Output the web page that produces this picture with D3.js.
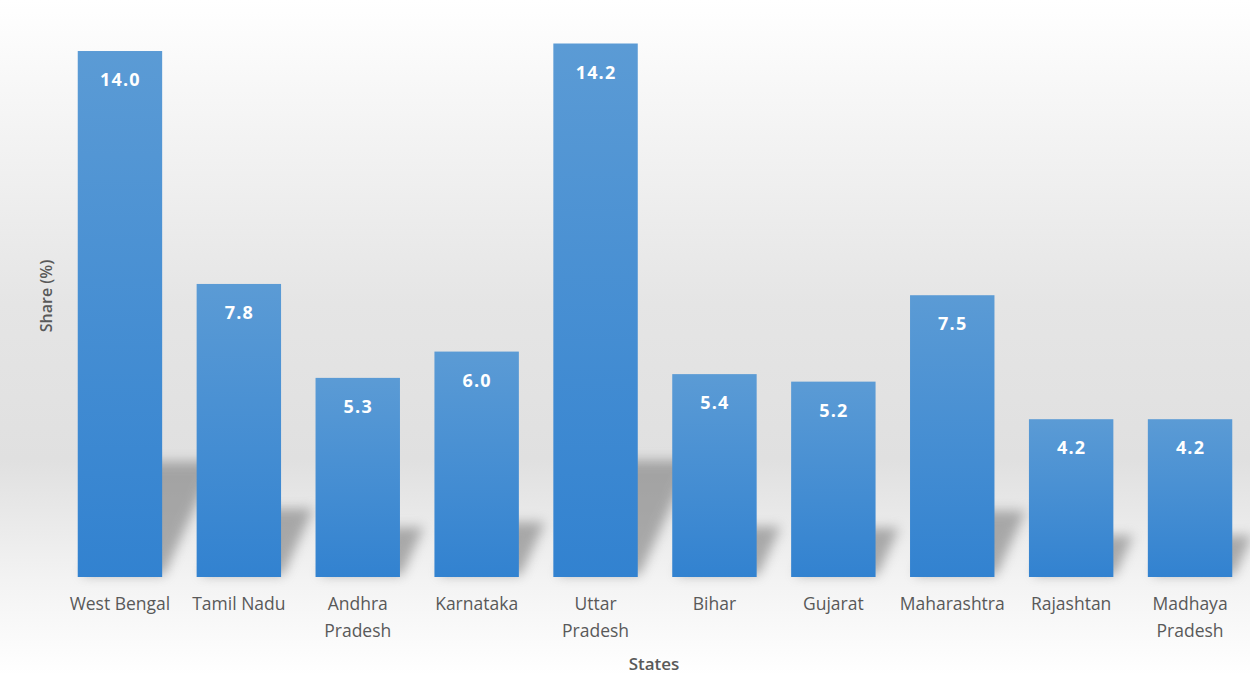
<!DOCTYPE html>
<html><head><meta charset="utf-8">
<script src="https://cdn.jsdelivr.net/npm/d3@7"></script>
<style>html,body{margin:0;padding:0;background:#fff}svg{display:block}</style>
</head><body>
<svg id="c" width="1250" height="675"></svg>
<script>
const categories = ["West Bengal","Tamil Nadu","Andhra Pradesh","Karnataka","Uttar Pradesh","Bihar","Gujarat","Maharashtra","Rajashtan","Madhaya Pradesh"];
const labelLines = [["West Bengal"],["Tamil Nadu"],["Andhra","Pradesh"],["Karnataka"],["Uttar","Pradesh"],["Bihar"],["Gujarat"],["Maharashtra"],["Rajashtan"],["Madhaya","Pradesh"]];
const values = [14.0,7.8,5.3,6.0,14.2,5.4,5.2,7.5,4.2,4.2];
const xTitle = "States";
const yTitle = "Share (%)";

const W=1250,H=675;
const svg=d3.select("#c");
const defs=svg.append("defs");
const bg=defs.append("linearGradient").attr("id","bg").attr("x1",0).attr("y1",0).attr("x2",0).attr("y2",1);
[[0,"#ffffff"],[0.15,"#f6f6f6"],[0.45,"#e5e5e5"],[0.68,"#e0e0e0"],[0.86,"#f3f3f3"],[1,"#ffffff"]].forEach(s=>bg.append("stop").attr("offset",s[0]).attr("stop-color",s[1]));
const bar=defs.append("linearGradient").attr("id","bar").attr("x1",0).attr("y1",0).attr("x2",0).attr("y2",1);
bar.append("stop").attr("offset",0).attr("stop-color","#5b9bd5");
bar.append("stop").attr("offset",1).attr("stop-color","#3282d0");
const blur=defs.append("filter").attr("id","blur").attr("x","-50%").attr("y","-50%").attr("width","200%").attr("height","200%");
blur.append("feGaussianBlur").attr("stdDeviation",6);

svg.append("rect").attr("width",W).attr("height",H).attr("fill","url(#bg)");

const x=d3.scaleBand().domain(categories).range([60.5,1249.5]).paddingInner(0.29).paddingOuter(0.145);
const y=d3.scaleLinear().domain([0,14.2]).range([577,43.5]);

// perspective shadows
const g=svg.append("g");
g.selectAll("path.sh").data(categories).join("path").attr("class","sh")
 .attr("d",(c,i)=>{const x0=x(c),x1=x0+x.bandwidth();const h=(y(0)-y(values[i]))*0.2+8;const dx=h/2.2;const b=y(0)-2;
   return `M${x0+4},${b}L${x1+2},${b}L${x1+dx+2},${b-h}L${x0+dx+4},${b-h}Z`;})
 .attr("fill","#7a7a7a").attr("opacity",0.6).attr("filter","url(#blur)");

g.selectAll("rect.bar").data(categories).join("rect").attr("class","bar")
 .attr("x",c=>x(c)).attr("width",x.bandwidth())
 .attr("y",(c,i)=>y(values[i])).attr("height",(c,i)=>y(0)-y(values[i]))
 .attr("fill","url(#bar)");

g.selectAll("text.v").data(categories).join("text").attr("class","v")
 .attr("x",c=>x(c)+x.bandwidth()/2+0.5).attr("y",(c,i)=>y(values[i])+35)
 .attr("text-anchor","middle").attr("fill","#ffffff").attr("font-family","'Open Sans',sans-serif")
 .attr("font-weight","bold").attr("font-size",18).attr("letter-spacing",1.2).text((c,i)=>values[i].toFixed(1));

// axis labels
const xa=svg.append("g").attr("transform",`translate(0,${y(0)})`).call(d3.axisBottom(x).tickSize(0).tickFormat(""));
xa.select(".domain").remove();
const lg=svg.append("g");
lg.selectAll("text").data(categories).join("text")
 .attr("x",c=>x(c)+x.bandwidth()/2).attr("y",610)
 .attr("text-anchor","middle").attr("fill","#595959").attr("font-family","'Open Sans',sans-serif").attr("font-size",17.5)
 .each(function(c,i){const t=d3.select(this);labelLines[i].forEach((l,j)=>t.append("tspan").attr("x",x(c)+x.bandwidth()/2).attr("dy",j?27:0).text(l));});

svg.append("text").attr("x",654).attr("y",670).attr("text-anchor","middle").attr("fill","#595959")
 .attr("font-family","'Open Sans',sans-serif").attr("font-weight","600").attr("font-size",17).text(xTitle);
svg.append("text").attr("transform","translate(52,296) rotate(-90)").attr("text-anchor","middle").attr("fill","#595959")
 .attr("font-family","'Open Sans',sans-serif").attr("font-weight","600").attr("font-size",16).text(yTitle);
</script>
</body></html>
